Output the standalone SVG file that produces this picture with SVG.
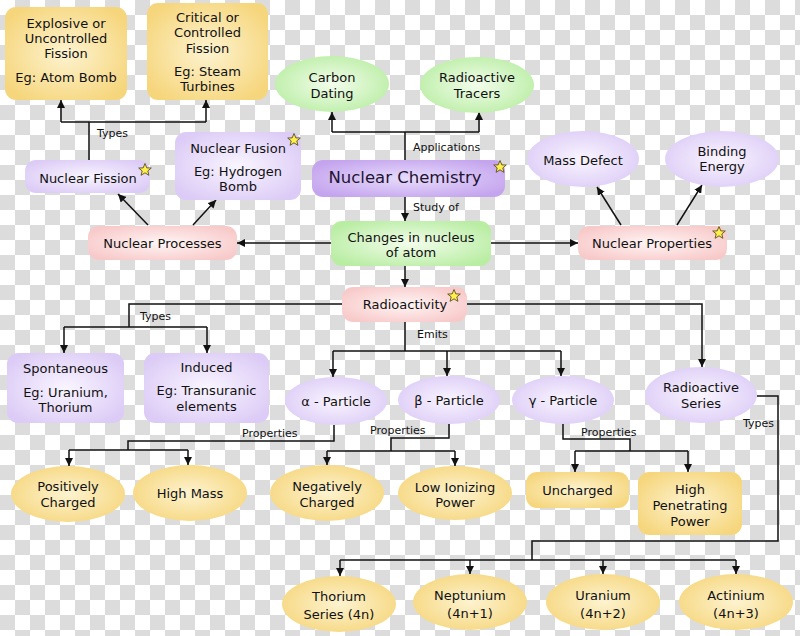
<svg xmlns="http://www.w3.org/2000/svg" xmlns:xlink="http://www.w3.org/1999/xlink" width="800" height="636" viewBox="0 0 800 636">
<defs>
  <pattern id="checker" width="30" height="30" patternUnits="userSpaceOnUse">
    <rect width="30" height="30" fill="#ffffff"/>
    <rect x="15" y="0" width="15" height="15" fill="#dcdcdc"/>
    <rect x="0" y="15" width="15" height="15" fill="#dcdcdc"/>
  </pattern>
  <radialGradient id="gYellow" cx="0.5" cy="0.5" r="0.6">
    <stop offset="0" stop-color="#fdf3d0"/>
    <stop offset="1" stop-color="#f6d67c"/>
  </radialGradient>
  <radialGradient id="gLav" cx="0.5" cy="0.5" r="0.6">
    <stop offset="0" stop-color="#f9f5ff"/>
    <stop offset="1" stop-color="#dccbf6"/>
  </radialGradient>
  <radialGradient id="gPurple" cx="0.5" cy="0.5" r="0.6">
    <stop offset="0" stop-color="#e8dcfb"/>
    <stop offset="1" stop-color="#c4a4ee"/>
  </radialGradient>
  <radialGradient id="gGreen" cx="0.5" cy="0.5" r="0.6">
    <stop offset="0" stop-color="#f3fdec"/>
    <stop offset="1" stop-color="#b8eda2"/>
  </radialGradient>
  <radialGradient id="gPink" cx="0.5" cy="0.5" r="0.6">
    <stop offset="0" stop-color="#fff5f5"/>
    <stop offset="1" stop-color="#f8c9c9"/>
  </radialGradient>
  <marker id="arr" viewBox="0 0 8 8" refX="8" refY="4" markerWidth="8" markerHeight="8" markerUnits="userSpaceOnUse" orient="auto">
    <path d="M0,0 L8,4 L0,8 z" fill="#111"/>
  </marker>
  <polygon id="star" points="0,-6.5 1.8,-2.1 6.3,-2 2.8,0.9 3.9,5.3 0,2.8 -3.9,5.3 -2.8,0.9 -6.3,-2 -1.8,-2.1" fill="#fff04a" stroke="#5a5020" stroke-width="0.9" stroke-linejoin="round"/>
</defs>
<style>
  text { font-family: "DejaVu Sans", Verdana, sans-serif; fill: #111; }
  .n { font-size: 13px; text-anchor: middle; }
  .big { font-size: 16.5px; text-anchor: middle; fill: #1e1433; }
  .lbl { font-size: 11px; }
  .c { fill: none; stroke: #111; stroke-width: 1.5; }
  .a { fill: none; stroke: #111; stroke-width: 1.5; marker-end: url(#arr); }
  .y { fill: url(#gYellow); }
  .l { fill: url(#gLav); }
  .p { fill: url(#gPurple); }
  .g { fill: url(#gGreen); }
  .k { fill: url(#gPink); }
</style>
<rect width="800" height="636" fill="url(#checker)"/>

<g id="connectors">
  <path class="c" d="M89,160 V122 M61,122 H206"/>
  <path class="a" d="M61,122 V100"/>
  <path class="a" d="M206,122 V100"/>
  <path class="c" d="M405,160 V132 M332,132 H479"/>
  <path class="a" d="M332,132 V112"/>
  <path class="a" d="M479,132 V112"/>
  <path class="a" d="M405,197 V221"/>
  <path class="a" d="M405,266 V287"/>
  <path class="a" d="M331,243 H237"/>
  <path class="a" d="M491,243 H578"/>
  <path class="a" d="M148,225 L118,194"/>
  <path class="a" d="M193,225 L216,200"/>
  <path class="a" d="M621,225 L597,187"/>
  <path class="a" d="M677,225 L702,185"/>
  <path class="c" d="M342,304 H129 V327 M64,327 H207"/>
  <path class="a" d="M64,327 V353"/>
  <path class="a" d="M207,327 V353"/>
  <path class="a" d="M467,304 H702 V367"/>
  <path class="c" d="M405,322 V351 M333,351 H561"/>
  <path class="a" d="M333,351 V377"/>
  <path class="a" d="M447,351 V376"/>
  <path class="a" d="M561,351 V376"/>
  <path class="c" d="M334,425 V441 H128 V450 M69,450 H188"/>
  <path class="a" d="M69,450 V466"/>
  <path class="a" d="M188,450 V465"/>
  <path class="c" d="M449,424 V438 H391 V451 M327,451 H455"/>
  <path class="a" d="M327,451 V465"/>
  <path class="a" d="M455,451 V466"/>
  <path class="c" d="M563,424 V439 H630 V451 M575,451 H688"/>
  <path class="a" d="M575,451 V472"/>
  <path class="a" d="M688,451 V472"/>
  <path class="c" d="M757,396 H778 V541 H532 V560 M340,560 H736"/>
  <path class="a" d="M340,560 V576"/>
  <path class="a" d="M470,560 V574"/>
  <path class="a" d="M603,560 V574"/>
  <path class="a" d="M736,560 V574"/>
  <text class="lbl" x="97" y="137">Types</text>
  <text class="lbl" x="413" y="151">Applications</text>
  <text class="lbl" x="413" y="211">Study of</text>
  <text class="lbl" x="140" y="320">Types</text>
  <text class="lbl" x="417" y="338">Emits</text>
  <text class="lbl" x="242" y="437">Properties</text>
  <text class="lbl" x="370" y="434">Properties</text>
  <text class="lbl" x="581" y="436">Properties</text>
  <text class="lbl" x="743" y="427">Types</text>
</g>

<g id="explosive-fission">
  <rect class="y" x="5" y="7" width="122" height="93" rx="11"/>
  <text class="n" x="66" y="27.5">Explosive or</text>
  <text class="n" x="66" y="42.5">Uncontrolled</text>
  <text class="n" x="66" y="57.5">Fission</text>
  <text class="n" x="66" y="81.5">Eg: Atom Bomb</text>
</g>
<g id="critical-fission">
  <rect class="y" x="147" y="3" width="121" height="97" rx="11"/>
  <text class="n" x="207.5" y="21.5">Critical or</text>
  <text class="n" x="207.5" y="36.5">Controlled</text>
  <text class="n" x="207.5" y="52.5">Fission</text>
  <text class="n" x="207.5" y="75.5">Eg: Steam</text>
  <text class="n" x="207.5" y="90.5">Turbines</text>
</g>
<g id="nuclear-fission">
  <rect class="l" x="25" y="160" width="125" height="33" rx="11"/>
  <text class="n" x="88" y="182.5">Nuclear Fission</text>
  <use href="#star" x="145" y="170"/>
</g>
<g id="nuclear-fusion">
  <rect class="l" x="175" y="132" width="126" height="68" rx="11"/>
  <text class="n" x="238" y="152.5">Nuclear Fusion</text>
  <text class="n" x="238" y="176">Eg: Hydrogen</text>
  <text class="n" x="238" y="190.5">Bomb</text>
  <use href="#star" x="294" y="140"/>
</g>
<g id="carbon-dating">
  <ellipse class="g" cx="332" cy="84" rx="57" ry="28"/>
  <text class="n" x="332" y="81.5">Carbon</text>
  <text class="n" x="332" y="97.5">Dating</text>
</g>
<g id="radioactive-tracers">
  <ellipse class="g" cx="477" cy="85" rx="57" ry="28"/>
  <text class="n" x="477" y="81.5">Radioactive</text>
  <text class="n" x="477" y="97.5">Tracers</text>
</g>
<g id="nuclear-chemistry">
  <rect class="p" x="312" y="160" width="193" height="37" rx="11"/>
  <text class="big" x="405" y="183">Nuclear Chemistry</text>
  <use href="#star" x="500" y="167"/>
</g>
<g id="mass-defect">
  <ellipse class="l" cx="583" cy="159" rx="56" ry="28"/>
  <text class="n" x="583" y="164.5">Mass Defect</text>
</g>
<g id="binding-energy">
  <ellipse class="l" cx="722" cy="159" rx="57" ry="28"/>
  <text class="n" x="722" y="155.5">Binding</text>
  <text class="n" x="722" y="170.5">Energy</text>
</g>
<g id="nuclear-processes">
  <rect class="k" x="88" y="226" width="149" height="34" rx="11"/>
  <text class="n" x="162.5" y="247.5">Nuclear Processes</text>
</g>
<g id="changes-in-nucleus">
  <rect class="g" x="331" y="221" width="160" height="45" rx="11"/>
  <text class="n" x="411" y="241.5">Changes in nucleus</text>
  <text class="n" x="411" y="256.5">of atom</text>
</g>
<g id="nuclear-properties">
  <rect class="k" x="578" y="226" width="149" height="34" rx="11"/>
  <text class="n" x="652" y="247.5">Nuclear Properties</text>
  <use href="#star" x="719" y="233"/>
</g>
<g id="radioactivity">
  <rect class="k" x="342" y="287" width="125" height="35" rx="11"/>
  <text class="n" x="405" y="308.5">Radioactivity</text>
  <use href="#star" x="454" y="296"/>
</g>
<g id="spontaneous">
  <rect class="l" x="7" y="353" width="117" height="70" rx="11"/>
  <text class="n" x="65.5" y="372.5">Spontaneous</text>
  <text class="n" x="65.5" y="396.5">Eg: Uranium,</text>
  <text class="n" x="65.5" y="411.5">Thorium</text>
</g>
<g id="induced">
  <rect class="l" x="144" y="353" width="125" height="70" rx="11"/>
  <text class="n" x="206.5" y="371.5">Induced</text>
  <text class="n" x="206.5" y="394.5">Eg: Transuranic</text>
  <text class="n" x="206.5" y="410.5">elements</text>
</g>
<g id="alpha-particle">
  <ellipse class="l" cx="336" cy="401" rx="51" ry="24"/>
  <text class="n" x="336" y="406">α - Particle</text>
</g>
<g id="beta-particle">
  <ellipse class="l" cx="449" cy="400" rx="51" ry="24"/>
  <text class="n" x="449" y="404.5">β - Particle</text>
</g>
<g id="gamma-particle">
  <ellipse class="l" cx="563" cy="400" rx="51" ry="24"/>
  <text class="n" x="563" y="404.5">γ - Particle</text>
</g>
<g id="radioactive-series">
  <ellipse class="l" cx="701" cy="395" rx="56" ry="28"/>
  <text class="n" x="701" y="391.5">Radioactive</text>
  <text class="n" x="701" y="407.5">Series</text>
</g>
<g id="positively-charged">
  <ellipse class="y" cx="68" cy="494" rx="57" ry="28"/>
  <text class="n" x="68" y="490.5">Positively</text>
  <text class="n" x="68" y="506.5">Charged</text>
</g>
<g id="high-mass">
  <ellipse class="y" cx="190" cy="493" rx="57" ry="28"/>
  <text class="n" x="190" y="497.5">High Mass</text>
</g>
<g id="negatively-charged">
  <ellipse class="y" cx="327" cy="493" rx="57" ry="28"/>
  <text class="n" x="327" y="490.5">Negatively</text>
  <text class="n" x="327" y="506.5">Charged</text>
</g>
<g id="low-ionizing-power">
  <ellipse class="y" cx="455" cy="493" rx="57" ry="27"/>
  <text class="n" x="455" y="491.5">Low Ionizing</text>
  <text class="n" x="455" y="506.5">Power</text>
</g>
<g id="uncharged">
  <rect class="y" x="526" y="472" width="103" height="36" rx="11"/>
  <text class="n" x="577.5" y="494.5">Uncharged</text>
</g>
<g id="high-penetrating-power">
  <rect class="y" x="638" y="472" width="104" height="63" rx="11"/>
  <text class="n" x="690" y="493.5">High</text>
  <text class="n" x="690" y="509.5">Penetrating</text>
  <text class="n" x="690" y="525.5">Power</text>
</g>
<g id="thorium-series">
  <ellipse class="y" cx="339" cy="604" rx="57" ry="28"/>
  <text class="n" x="339" y="600.5">Thorium</text>
  <text class="n" x="339" y="618.5">Series (4n)</text>
</g>
<g id="neptunium">
  <ellipse class="y" cx="470" cy="602" rx="57" ry="28"/>
  <text class="n" x="470" y="600">Neptunium</text>
  <text class="n" x="470" y="618">(4n+1)</text>
</g>
<g id="uranium">
  <ellipse class="y" cx="603" cy="602" rx="57" ry="28"/>
  <text class="n" x="603" y="600">Uranium</text>
  <text class="n" x="603" y="618">(4n+2)</text>
</g>
<g id="actinium">
  <ellipse class="y" cx="736" cy="602" rx="57" ry="28"/>
  <text class="n" x="736" y="600">Actinium</text>
  <text class="n" x="736" y="618">(4n+3)</text>
</g>
</svg>
